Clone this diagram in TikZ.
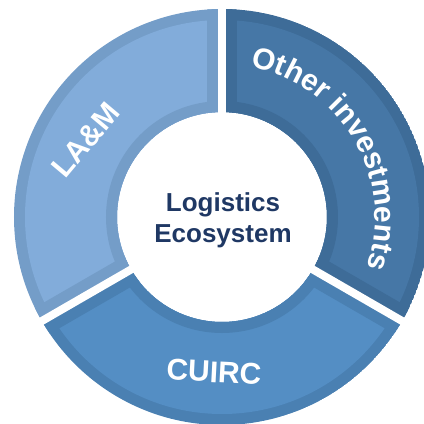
\documentclass[tikz,border=0pt]{standalone}
\usepackage{fontspec}
\setsansfont{Liberation Sans}
\usepackage{tikz}
\usetikzlibrary{decorations.text}
\definecolor{lamBody}{RGB}{130,172,218}
\definecolor{lamBorder}{RGB}{116,157,200}
\definecolor{cuircBody}{RGB}{84,142,196}
\definecolor{cuircBorder}{RGB}{74,128,178}
\definecolor{otherBody}{RGB}{70,119,166}
\definecolor{otherBorder}{RGB}{62,108,152}
\definecolor{hubText}{RGB}{31,56,100}
\newcommand{\ringfont}{\fontsize{30}{36}\selectfont\sffamily\bfseries}
\tikzstyle{ringtext} = [font=\ringfont, text=white, inner sep=0pt]
\tikzstyle{hub} = [font={\fontsize{26}{31}\selectfont\sffamily\bfseries}, text=hubText, align=center]

\begin{document}
\begin{tikzpicture}[x=1pt, y=1pt]
        \clip (-222,-207) rectangle (202,217);
        % three ring segments, each with a darker rim
        \foreach \a/\body/\border in {90/lamBody/lamBorder, 210/cuircBody/cuircBorder, -30/otherBody/otherBorder} {
            \begin{scope}
                \clip (\a:105) arc[start angle=\a, delta angle=120, radius=105]
                    -- ({\a+120}:208) arc[start angle={\a+120}, delta angle=-120, radius=208] -- cycle;
                \fill [\border] (0,0) circle (208);
                \fill [\body] (0,0) circle (197);
                \fill [\border] (0,0) circle (116);
                \draw [\border, line width=30] (0,0) -- (\a:220);
                \draw [\border, line width=30] (0,0) -- ({\a+120}:220);
            \end{scope}
        }
        % white gaps between the segments
        \foreach \a in {90,210,330}
            \draw [white, line width=8] (0,0) -- (\a:220);
        \node [hub] (hub) at (1,-3) {Logistics\\Ecosystem};
        \node [ringtext, rotate=50] (lam) at (-136,77) {LA\&M};
        \node [ringtext, rotate=-3] (cuirc) at (-8,-155) {CUIRC};
        \path [decorate, decoration={text along path, text align=center,
                text={|\ringfont\color{white}|Other investments}}]
            (80:153) arc[start angle=80, end angle=-20, radius=153];
    \end{tikzpicture}
\end{document}
